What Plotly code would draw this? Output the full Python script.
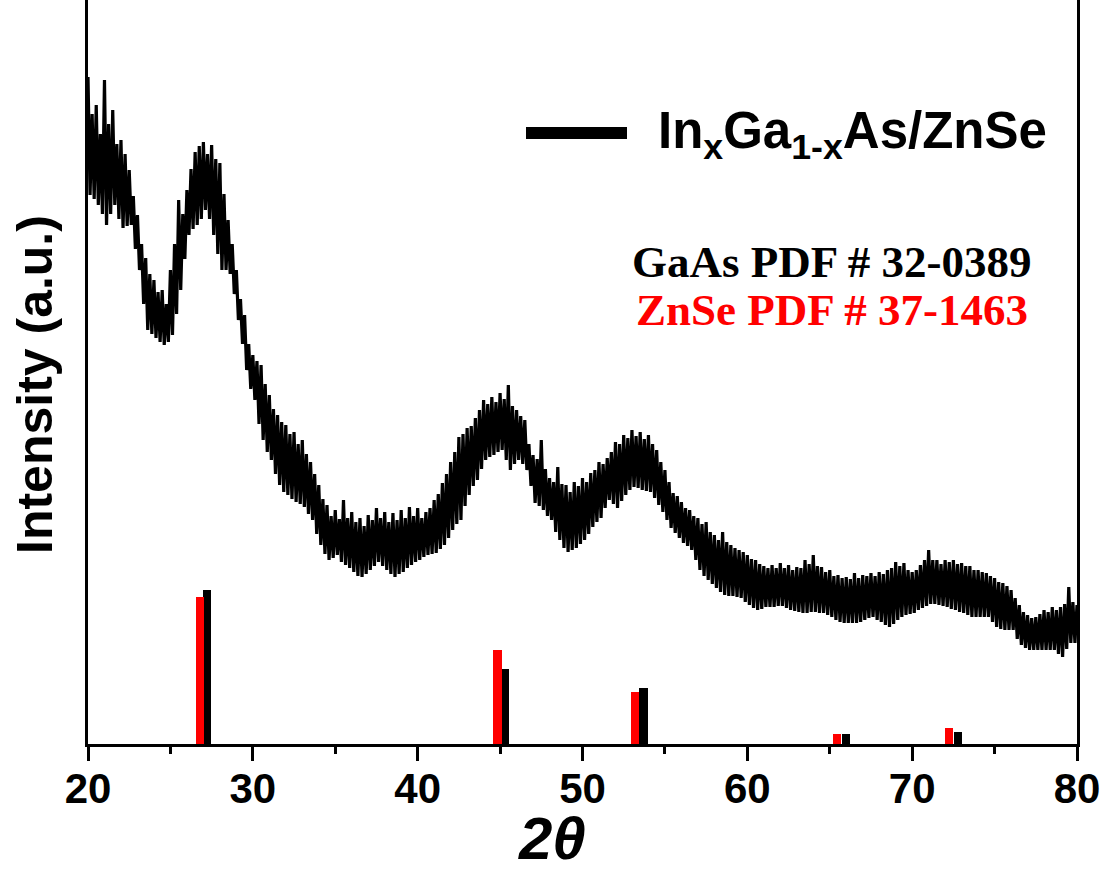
import numpy as np
import plotly.graph_objects as go

# ---- data ----
# The pattern is sampled every 0.125 deg; the noise alternates between its
# local maxima (at 20.000, 20.250, ...) and local minima (at 20.125, 20.375, ...).
theta_start = 20.0
theta_step = 0.125
noise_max = [
    667, 630, 639, 610, 664, 620, 634, 600,
    604, 590, 574, 548, 529, 500, 486, 470,
    464, 452, 454, 440, 474, 500, 544, 530,
    554, 575, 592, 598, 602, 590, 599, 585,
    581, 550, 524, 500, 474, 445, 429, 400,
    389, 383, 379, 360, 349, 335, 329, 322,
    319, 310, 312, 300, 304, 290, 282, 270,
    259, 245, 239, 228, 234, 225, 244, 226,
    232, 222, 226, 218, 229, 224, 236, 226,
    232, 222, 231, 224, 234, 226, 237, 228,
    236, 226, 232, 236, 244, 250, 261, 270,
    282, 292, 307, 310, 316, 318, 326, 334,
    344, 340, 347, 342, 351, 345, 359, 338,
    334, 328, 324, 300, 289, 285, 304, 275,
    266, 262, 277, 260, 259, 252, 262, 258,
    266, 262, 271, 274, 282, 280, 286, 292,
    302, 300, 309, 306, 314, 308, 312, 305,
    309, 300, 294, 282, 274, 262, 251, 248,
    242, 236, 234, 228, 226, 220, 222, 212,
    209, 204, 212, 202, 199, 196, 194, 192,
    189, 185, 184, 180, 178, 176, 179, 176,
    181, 176, 179, 174, 177, 176, 184, 180,
    189, 178, 177, 172, 174, 168, 169, 166,
    167, 165, 171, 166, 169, 168, 171, 168,
    172, 170, 174, 176, 182, 178, 181, 174,
    172, 174, 179, 184, 194, 184, 184, 180,
    184, 182, 184, 180, 181, 178, 178, 174,
    174, 172, 171, 168, 166, 162, 161, 158,
    154, 146, 139, 132, 129, 126, 127, 130,
    134, 132, 137, 134, 137, 140, 157, 142,
    139,
]
noise_min = [
    549, 545, 539, 530, 519, 530, 539, 525,
    516, 518, 519, 495, 474, 440, 414, 410,
    406, 402, 399, 402, 409, 430, 454, 485,
    509, 515, 519, 525, 534, 525, 509, 490,
    474, 474, 470, 450, 424, 400, 374, 355,
    344, 320, 304, 292, 284, 270, 259, 252,
    249, 245, 242, 240, 237, 230, 224, 210,
    199, 190, 184, 186, 189, 182, 179, 176,
    172, 168, 167, 170, 174, 178, 182, 178,
    174, 170, 167, 170, 172, 176, 179, 182,
    184, 187, 189, 190, 191, 195, 199, 206,
    214, 220, 224, 238, 249, 258, 264, 275,
    284, 287, 289, 292, 294, 284, 274, 280,
    284, 280, 274, 258, 241, 238, 234, 228,
    224, 212, 204, 196, 192, 194, 196, 200,
    204, 210, 217, 222, 226, 236, 244, 240,
    236, 243, 249, 254, 257, 256, 254, 253,
    252, 246, 239, 232, 224, 216, 211, 206,
    201, 198, 194, 184, 174, 168, 164, 160,
    156, 152, 149, 148, 148, 147, 146, 142,
    139, 136, 134, 135, 137, 137, 137, 138,
    138, 136, 134, 133, 132, 131, 131, 132,
    132, 131, 131, 129, 127, 124, 122, 121,
    121, 121, 121, 122, 124, 126, 127, 124,
    122, 119, 117, 120, 124, 127, 129, 130,
    131, 134, 136, 138, 140, 140, 139, 138,
    137, 135, 134, 132, 131, 129, 127, 127,
    127, 127, 127, 122, 117, 115, 114, 114,
    114, 105, 99, 96, 94, 94, 94, 94,
    94, 94, 94, 90, 87, 95, 101, 101,
]
intensity = []
for hi, lo in zip(noise_max, noise_min):
    intensity += [hi, lo]
intensity.append(noise_max[-1])
two_theta = theta_start + theta_step * np.arange(len(intensity))

gaas_pos = [27.2, 45.3, 53.7, 66.0, 72.8]
gaas_int = [154, 75, 56, 10, 12]
znse_pos = [26.8, 44.85, 53.2, 65.45, 72.25]
znse_int = [147, 94, 52, 10, 16]

x_ticks = [20, 30, 40, 50, 60, 70, 80]
x_range = [20, 80]
y_range = [0, 744]

legend_label = "<b>In<sub>x</sub>Ga<sub>1-x</sub>As/ZnSe</b>"
gaas_label = "<b>GaAs PDF # 32-0389</b>"
znse_label = "<b>ZnSe PDF # 37-1463</b>"
x_title = "<b><i>2θ</i></b>"
y_title = "<b>Intensity (a.u.)</b>"

SANS = "Liberation Sans, Arial, sans-serif"
SERIF = "Liberation Serif, Times New Roman, serif"

fig = go.Figure()
fig.add_trace(go.Bar(x=gaas_pos, y=gaas_int, width=0.5, marker=dict(color="black", line=dict(width=0)),
                     showlegend=False))
fig.add_trace(go.Bar(x=znse_pos, y=znse_int, width=0.5, marker=dict(color="#ff0000", line=dict(width=0)),
                     showlegend=False))
fig.add_trace(go.Scatter(x=two_theta, y=intensity, mode="lines",
                         line=dict(color="black", width=3.2), showlegend=False))

fig.update_layout(
    width=1107, height=874,
    margin=dict(l=88, r=30, t=0, b=130),
    plot_bgcolor="white", paper_bgcolor="white",
    barmode="overlay", bargap=0,
    showlegend=False,
    font=dict(family=SANS, color="black"),
)
fig.update_xaxes(
    range=x_range, tickvals=x_ticks, ticks="outside", ticklen=14, tickwidth=3, tickcolor="black",
    showline=True, linewidth=3, linecolor="black", mirror=False, showgrid=False, zeroline=False,
    tickfont=dict(family=SANS, size=42, color="black", weight="bold"),
    ticklabelstandoff=-8,
    minor=dict(dtick=5, ticks="outside", ticklen=7, tickwidth=3, tickcolor="black", showgrid=False),
)
fig.update_yaxes(
    range=y_range, showticklabels=False, ticks="", showline=True, linewidth=3, linecolor="black",
    mirror=True, showgrid=False, zeroline=False,
)

# legend (manual)
fig.add_shape(type="line", xref="paper", yref="paper",
              x0=(526 - 88) / 989, x1=(627 - 88) / 989, y0=(744 - 133) / 744, y1=(744 - 133) / 744,
              line=dict(color="black", width=12))
fig.add_annotation(text=legend_label, xref="paper", yref="paper",
                   x=(656 - 88) / 989, y=(744 - 135) / 744, xanchor="left", yanchor="middle",
                   showarrow=False, font=dict(family=SANS, size=51, color="black"))
fig.add_annotation(text=gaas_label, xref="paper", yref="paper",
                   x=(832 - 88) / 989, y=(744 - 262) / 744, xanchor="center", yanchor="middle",
                   showarrow=False, font=dict(family=SERIF, size=45, color="black"))
fig.add_annotation(text=znse_label, xref="paper", yref="paper",
                   x=(832 - 88) / 989, y=(744 - 310) / 744, xanchor="center", yanchor="middle",
                   showarrow=False, font=dict(family=SERIF, size=45, color="#ff0000"))
# axis titles
fig.add_annotation(text=x_title, xref="paper", yref="paper",
                   x=(552 - 88) / 989, y=(744 - 838) / 744, xanchor="center", yanchor="middle",
                   showarrow=False, font=dict(family=SANS, size=60, color="black"))
fig.add_annotation(text=y_title, xref="paper", yref="paper",
                   x=(35 - 88) / 989, y=(744 - 385) / 744, xanchor="center", yanchor="middle",
                   textangle=-90, showarrow=False, font=dict(family=SANS, size=50, color="black"))

fig.write_html("out.html", config={"displayModeBar": False},
               post_script="document.body.style.margin='0';")
